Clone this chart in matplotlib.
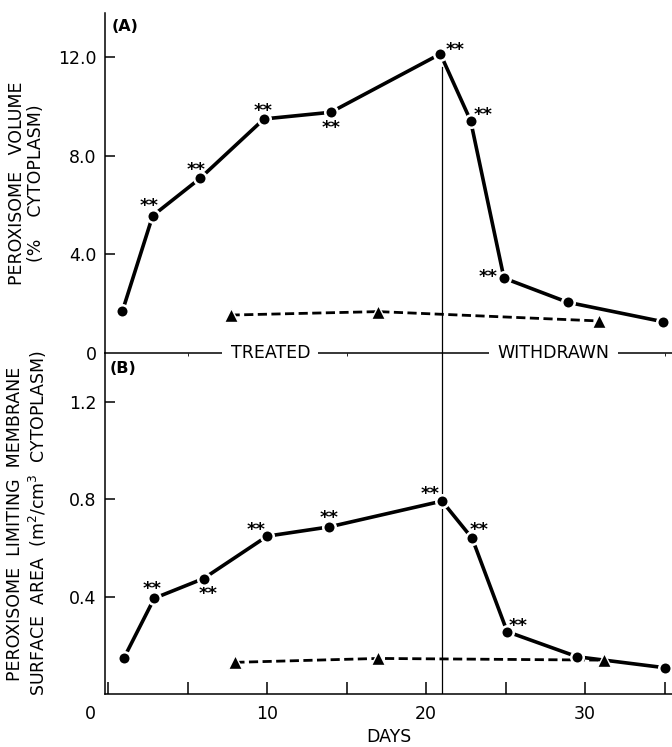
import matplotlib
matplotlib.use('Agg')
import matplotlib.pyplot as plt
import matplotlib.transforms as mtransforms

# ---- data ----
days_a = [0.9, 2.8, 5.8, 9.8, 14.0, 20.9, 22.8, 24.9, 28.9, 34.9]
volume_a = [1.71, 5.57, 7.10, 9.50, 9.77, 12.14, 9.43, 3.04, 2.06, 1.27]
signif_a = [False, True, True, True, True, True, True, True, False, False]
ctrl_days_a = [7.7, 17.0, 30.9]
ctrl_volume_a = [1.54, 1.68, 1.30]

days_b = [1.0, 2.9, 6.0, 10.0, 13.9, 21.0, 22.9, 25.1, 29.5, 35.0]
area_b = [0.149, 0.393, 0.474, 0.648, 0.686, 0.792, 0.639, 0.256, 0.153, 0.108]
signif_b = [False, True, True, True, True, True, True, True, False, False]
ctrl_days_b = [8.0, 17.0, 31.2]
ctrl_area_b = [0.130, 0.146, 0.139]

withdrawal_day = 21
x_ticks = [0, 10, 20, 30]
x_minor = [5, 15, 25, 35]
y_ticks_a = [0, 4.0, 8.0, 12.0]
y_ticklabels_a = ['0', '4.0', '8.0', '12.0']
y_ticks_b = [0.4, 0.8, 1.2]
y_ticklabels_b = ['0.4', '0.8', '1.2']

# star label offsets (pixels), style only
star_off_a = [None, (-4, 14), (-4, 12), (-1, 12), (0, -12), (15, 8), (13, 10), (-16, 5), None, None]
star_off_b = [None, (-2, 13), (5, -11), (-11, 10), (0, 13), (-12, 11), (7, 12), (11, 10), None, None]

plt.rcParams['font.family'] = ['DejaVu Sans']

fig = plt.figure(figsize=(6.72, 7.47), dpi=100)
L, W = 105 / 672, 567 / 672
y_mid = 1 - 353 / 747
y_bot = 1 - 694 / 747
y_top = 1 - 13 / 747
ax_a = fig.add_axes([L, y_mid, W, y_top - y_mid])
ax_b = fig.add_axes([L, y_bot, W, y_mid - y_bot], sharex=ax_a)
ax_b.patch.set_visible(False)

xlim = (-0.2, 35.47)
for ax in (ax_a, ax_b):
    ax.set_xlim(*xlim)
    ax.spines['right'].set_visible(False)
    ax.spines['top'].set_visible(False)
    for s in ax.spines.values():
        s.set_linewidth(1.1)

ax_a.set_ylim(0, 13.8)
ax_b.set_ylim(0, 1.4)

line_kw = dict(color='black', lw=2.6, solid_capstyle='butt')
circ_kw = dict(marker='o', ms=9, mfc='black', mec='white', mew=1.8)
dash_kw = dict(color='black', lw=2.0, dashes=(3.3, 1.6))
tri_kw = dict(marker='^', ms=10.5, mfc='black', mec='white', mew=1.0)

# Panel A
ax_a.plot(days_a, volume_a, **line_kw, zorder=3)
ax_a.plot(days_a, volume_a, ls='none', **circ_kw, zorder=4)
ax_a.plot(ctrl_days_a, ctrl_volume_a, **dash_kw, zorder=3)
ax_a.plot(ctrl_days_a, ctrl_volume_a, ls='none', **tri_kw, zorder=4)
ax_a.plot([withdrawal_day, withdrawal_day], [0, 11.6], color='black', lw=0.9, zorder=2)

# Panel B
ax_b.plot(days_b, area_b, **line_kw, zorder=3)
ax_b.plot(days_b, area_b, ls='none', **circ_kw, zorder=4)
ax_b.plot(ctrl_days_b, ctrl_area_b, **dash_kw, zorder=3)
ax_b.plot(ctrl_days_b, ctrl_area_b, ls='none', **tri_kw, zorder=4)
ax_b.axvline(withdrawal_day, color='black', lw=0.9, zorder=2)

for ax, xs, ys, sig, offs in ((ax_a, days_a, volume_a, signif_a, star_off_a),
                              (ax_b, days_b, area_b, signif_b, star_off_b)):
    for x, y, s, o in zip(xs, ys, sig, offs):
        if s:
            ax.annotate('**', (x, y), xytext=(o[0], o[1] - 4), textcoords='offset pixels',
                        ha='center', va='center', fontsize=13, fontweight='bold')

# ticks
ax_a.tick_params(axis='x', bottom=False, labelbottom=False)
ax_a.set_yticks(y_ticks_a)
ax_a.set_yticklabels(y_ticklabels_a)
ax_a.tick_params(axis='y', direction='in', length=7, width=1.1, pad=6, labelsize=12.5)
ax_a.yaxis.get_major_ticks()[0].tick1line.set_visible(False)

ax_b.set_yticks(y_ticks_b)
ax_b.set_yticklabels(y_ticklabels_b)
ax_b.tick_params(axis='y', direction='in', length=7, width=1.1, pad=6, labelsize=12.5)
ax_b.set_xticks(x_ticks)
ax_b.set_xticklabels([str(v) for v in x_ticks])
ax_b.set_xticks(x_minor, minor=True)
ax_b.tick_params(axis='x', which='both', direction='in', length=9, width=1.1, pad=8, labelsize=12.5)
# shift "0" label left as in the reference
lbl0 = ax_b.get_xticklabels()[0]
lbl0.set_transform(lbl0.get_transform() + mtransforms.ScaledTranslation(-18 / 100, 0, fig.dpi_scale_trans))

# labels
ax_a.set_ylabel('PEROXISOME   VOLUME\n(%    CYTOPLASM)', fontsize=12.5, linespacing=1.05)
ax_b.set_ylabel('PEROXISOME  LIMITING  MEMBRANE\nSURFACE  AREA  (m$^2$/cm$^3$  CYTOPLASM)', fontsize=12.5,
                linespacing=1.2)
ax_b.set_xlabel('DAYS', fontsize=12.5, labelpad=3.5)
ax_a.yaxis.set_label_coords(-0.106, 0.5)
ax_b.yaxis.set_label_coords(-0.098, 0.5)

ax_a.text(0.012, 0.96, '(A)', transform=ax_a.transAxes, fontsize=11.5, fontweight='bold', ha='left', va='center')
ax_b.text(0.008, 0.955, '(B)', transform=ax_b.transAxes, fontsize=11.5, fontweight='bold', ha='left', va='center')

box = dict(facecolor='white', edgecolor='none', pad=6)
ax_a.text(10.2, 0, 'TREATED', ha='center', va='center', fontsize=12.5, bbox=box, zorder=6, clip_on=False)
ax_a.text(28.0, 0, 'WITHDRAWN', ha='center', va='center', fontsize=12.5, bbox=box, zorder=6, clip_on=False)

fig.savefig('out.png', dpi=100)
